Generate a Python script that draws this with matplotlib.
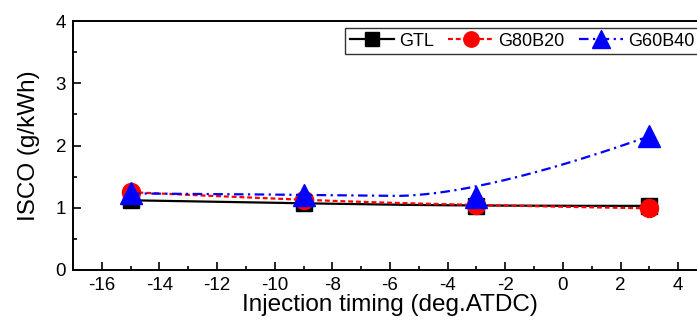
import numpy as np
import matplotlib.pyplot as plt

plt.rcParams['font.family'] = ['Liberation Sans', 'DejaVu Sans']
plt.rcParams['axes.unicode_minus'] = False

timing = [-15, -9, -3, 3]
gtl = [1.12, 1.07, 1.03, 1.03]
g80b20 = [1.25, 1.12, 1.04, 0.99]
g60b40 = [1.23, 1.21, 1.17, 2.15]


def bspline(x, y, degree=2, n=300):
    # clamped B-spline using the data points as control points
    pts = np.column_stack([x, y]).astype(float)
    k = len(pts)
    inner = np.linspace(0, 1, k - degree + 1)[1:-1]
    knots = np.concatenate([np.zeros(degree + 1), inner, np.ones(degree + 1)])
    t = np.linspace(0, 1, n)
    t[-1] -= 1e-9

    def basis(i, p):
        if p == 0:
            return ((knots[i] <= t) & (t < knots[i + 1])).astype(float)
        out = np.zeros_like(t)
        d1 = knots[i + p] - knots[i]
        d2 = knots[i + p + 1] - knots[i + 1]
        if d1 > 0:
            out += (t - knots[i]) / d1 * basis(i, p - 1)
        if d2 > 0:
            out += (knots[i + p + 1] - t) / d2 * basis(i + 1, p - 1)
        return out

    curve = sum(basis(i, degree)[:, None] * pts[i] for i in range(k))
    return curve[:, 0], curve[:, 1]


fig = plt.figure(figsize=(6.97, 3.25), dpi=100)
ax = fig.add_axes([73 / 697, 1 - 270 / 325, (707 - 73) / 697, (270 - 21) / 325])

series = [
    ('GTL', gtl, 'black', '-', 's', 12),
    ('G80B20', g80b20, 'red', (0, (2.2, 1.3)), 'o', 13),
    ('G60B40', g60b40, 'blue', (0, (4.3, 2, 1, 2)), '^', 16),
]
for name, vals, col, ls, mk, ms in series:
    xs, ys = bspline(timing, vals)
    ax.plot(xs, ys, color=col, ls=ls, lw=1.6)
    ax.plot(timing, vals, ls='none', marker=mk, ms=ms, color=col)
    ax.plot([], [], color=col, ls=ls, lw=1.6, marker=mk, ms=ms, label=name)

ax.set_xlim(-17, 5)
ax.set_ylim(0, 4)
ax.set_xticks(range(-16, 5, 2))
ax.set_xticks(range(-17, 6), minor=True)
ax.set_yticks(range(0, 5))
ax.set_yticks(np.arange(0, 4.01, 0.5), minor=True)
ax.tick_params(direction='in', which='major', length=6, width=1.2, labelsize=13.5, pad=5)
ax.tick_params(direction='in', which='minor', length=3, width=1.2)
for s in ax.spines.values():
    s.set_linewidth(1.4)

ax.set_xlabel('Injection timing (deg.ATDC)', fontsize=17.5, labelpad=0)
ax.set_ylabel('ISCO (g/kWh)', fontsize=17.5, labelpad=11)

leg = fig.legend(loc='upper left', bbox_to_anchor=(345 / 697, 1 - 28 / 325), ncol=3,
                 fontsize=13, frameon=True, fancybox=False, edgecolor='black',
                 handlelength=2.45, handletextpad=0.3, columnspacing=0.8,
                 borderpad=0.25, borderaxespad=0, markerscale=0.85)
leg.get_frame().set_linewidth(1.0)

fig.savefig('out.png', dpi=100)
